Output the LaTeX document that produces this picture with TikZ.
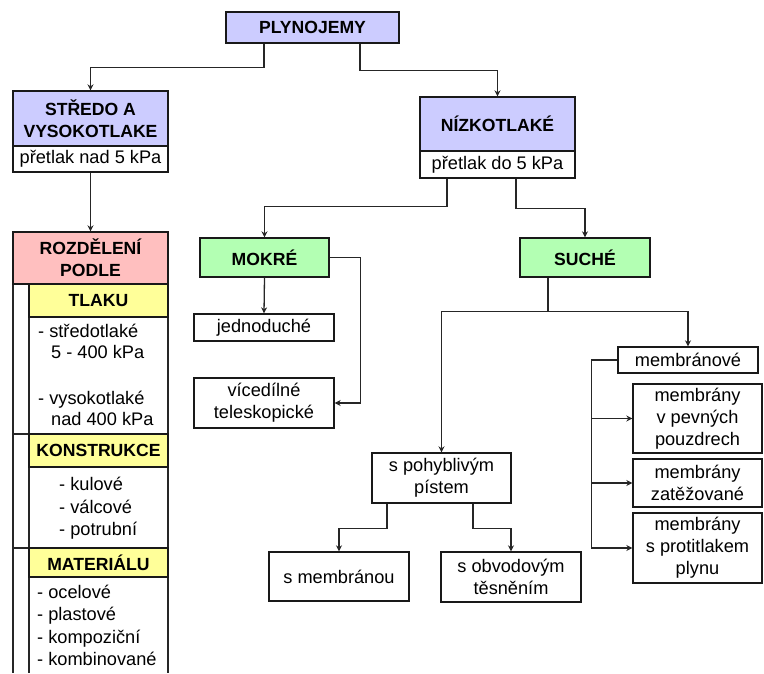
\documentclass[tikz,border=0pt]{standalone}
\usepackage{fontspec}
\setmainfont{Liberation Sans}
\usetikzlibrary{arrows.meta}
\definecolor{lav}{HTML}{CCCCFF}
\definecolor{grn}{HTML}{B3FFB3}
\definecolor{pnk}{HTML}{FFBFBF}
\definecolor{yel}{HTML}{FFFF99}
\begin{document}
\begin{tikzpicture}[x=1pt,y=-1pt,
  every node/.style={font=\fontsize{18.2}{22}\selectfont, inner sep=0pt, text=black},
  box/.style={draw=black!90, line width=1.4pt, fill=white, align=center},
  bbox/.style={box, font=\fontsize{17.6}{22}\selectfont\bfseries},
  ln/.style={line width=1.3pt, draw=black!85},
  arr/.style={ln, -{Stealth[length=6pt,width=6pt]}},
  lt/.style={anchor=base west}]
\useasboundingbox (0,0) rectangle (764,673);
% left column frame
\draw[ln] (13,284) -- (13,673);
\draw[ln] (168,284) -- (168,673);
\draw[ln] (29,284) -- (29,673);
\draw[ln] (13,434) -- (168,434);
\draw[ln] (13,548) -- (168,548);
% boxes
\node[bbox, fill=lav, minimum width=173, minimum height=31] (ply) at (312.5,27.5) {PLYNOJEMY};
\node[bbox, fill=lav, minimum width=155, minimum height=55] (str) at (90.5,118.5) {STŘEDO A\\VYSOKOTLAKE};
\node[box, minimum width=155, minimum height=26] (strs) at (90.5,159) {přetlak nad 5 kPa};
\node[bbox, fill=lav, minimum width=155, minimum height=54] (niz) at (497.5,124) {NÍZKOTLAKÉ};
\node[box, minimum width=155, minimum height=27] (nizs) at (497.5,164.5) {přetlak do 5 kPa};
\node[bbox, fill=grn, minimum width=129, minimum height=39] (mok) at (264.5,257.5) {MOKRÉ};
\node[bbox, fill=grn, minimum width=130, minimum height=39] (such) at (585,257.5) {SUCHÉ};
\node[box, minimum width=140, minimum height=27] (jed) at (264,327.5) {jednoduché};
\node[box, minimum width=140, minimum height=50] (vic) at (264,403) {vícedílné\\teleskopické};
\node[box, minimum width=139, minimum height=50] (poh) at (441.5,478) {s pohyblivým\\pístem};
\node[box, minimum width=140, minimum height=49] (smem) at (339,576.5) {s membránou};
\node[box, minimum width=140, minimum height=50] (sobv) at (511,577) {s obvodovým\\těsněním};
\node[box, minimum width=140, minimum height=26] (mem) at (688,360) {membránové};
\node[box, minimum width=129, minimum height=69] (mv) at (697.5,418.5) {membrány\\v pevných\\pouzdrech};
\node[box, minimum width=129, minimum height=48] (mz) at (697.5,483) {membrány\\zatěžované};
\node[box, minimum width=129, minimum height=70] (mp) at (697.5,548) {membrány\\s protitlakem\\plynu};
\node[bbox, fill=pnk, minimum width=155, minimum height=52] (roz) at (90.5,258) {ROZDĚLENÍ\\PODLE};
\node[bbox, fill=yel, minimum width=139, minimum height=33] (tla) at (98.5,300.5) {TLAKU};
\node[bbox, fill=yel, minimum width=139, minimum height=33] (kon) at (98.5,450.5) {KONSTRUKCE};
\node[bbox, fill=yel, minimum width=139, minimum height=29] (mat) at (98.5,562.5) {MATERIÁLU};
% list texts
\node[lt] (t1) at (38,337) {- středotlaké};
\node[lt] (t2) at (51,358) {5 - 400 kPa};
\node[lt] (t3) at (38,404) {- vysokotlaké};
\node[lt] (t4) at (51,425) {nad 400 kPa};
\node[lt] (k1) at (59,490) {- kulové};
\node[lt] (k2) at (59,513) {- válcové};
\node[lt] (k3) at (59,535) {- potrubní};
\node[lt] (m1) at (37,598) {- ocelové};
\node[lt] (m2) at (37,620) {- plastové};
\node[lt] (m3) at (37,643) {- kompoziční};
\node[lt] (m4) at (37,665) {- kombinované};
% connectors
\draw[arr] (ply.south -| 264,0) -- ++(0,24) -| (str.north);
\draw[arr] (ply.south -| 360,0) -- ++(0,27) -| (niz.north);
\draw[arr] (strs.south) -- (roz.north);
\draw[arr] (nizs.south -| 447,0) -- ++(0,28) -| (mok.north);
\draw[arr] (nizs.south -| 516,0) -- ++(0,30) -| (such.north);
\draw[arr] (mok.south) -- (jed.north);
\draw[arr] (mok.east) -- ++(31,0) |- (vic.east);
\draw[ln] (such.south -| 548,0) -- ++(0,34) coordinate (sj);
\draw[arr] (sj) -| (poh.north);
\draw[arr] (sj) -| (mem.north);
\draw[ln] (mem.west) -- ++(-26,0) coordinate (mj) -- (mj |- mp.west);
\draw[arr] (mj |- mv.west) -- (mv.west);
\draw[arr] (mj |- mz.west) -- (mz.west);
\draw[arr] (mj |- mp.west) -- (mp.west);
\draw[arr] (poh.south -| 387,0) -- ++(0,25) -| (smem.north);
\draw[arr] (poh.south -| 473,0) -- ++(0,25) -| (sobv.north);
\end{tikzpicture}
\end{document}
